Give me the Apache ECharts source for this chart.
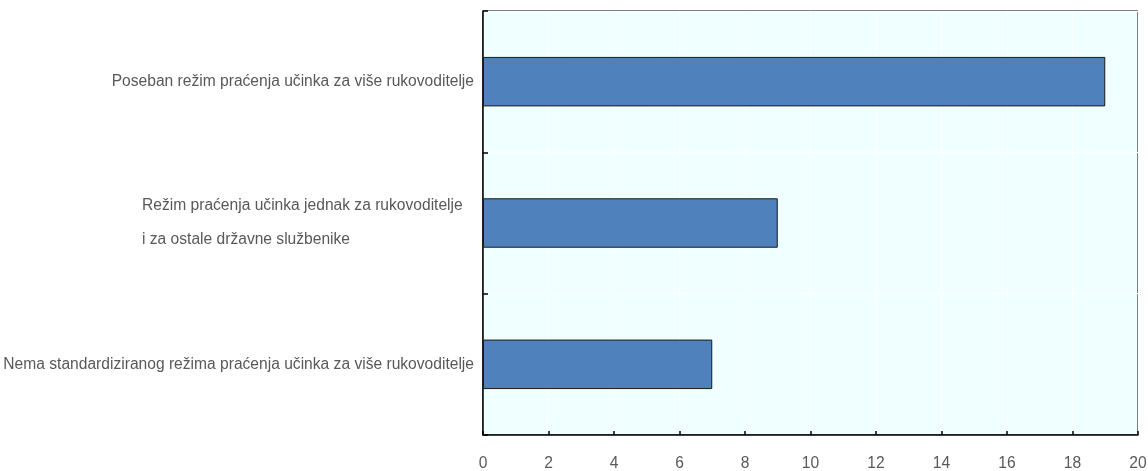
<!DOCTYPE html>
<html>
<head>
<meta charset="utf-8">
<script src="https://cdn.jsdelivr.net/npm/echarts@6/dist/echarts.min.js"></script>
<style>
  html, body { margin: 0; padding: 0; background: #fff; }
  #chart { width: 1148px; height: 471px; }
</style>
</head>
<body>
<div id="chart"></div>
<script>
var categories = [
  'Poseban režim praćenja učinka za više rukovoditelje',
  'Režim praćenja učinka jednak za rukovoditelje\ni za ostale državne službenike',
  'Nema standardiziranog režima praćenja učinka za više rukovoditelje'
];
var values = [19, 9, 7];
var xTicks = { min: 0, max: 20, interval: 2 };

var FONT = '"Liberation Sans", Arial, sans-serif';
var FS = 15.6;
var myChart = echarts.init(document.getElementById('chart'));
var option = {
  animation: false,
  grid: {
    left: 483, right: 10, top: 11, bottom: 36,
    outerBoundsMode: 'none',
    containLabel: false,
    show: true,
    backgroundColor: '#f0ffff',
    borderColor: '#000',
    borderWidth: 1
  },
  xAxis: {
    type: 'value',
    min: xTicks.min,
    max: xTicks.max,
    interval: xTicks.interval,
    axisLine: { show: true, lineStyle: { color: '#000', width: 1.5 } },
    axisTick: { show: true, inside: true, length: 4, lineStyle: { color: '#000', width: 1.5 } },
    axisLabel: { color: '#595959', fontSize: FS, fontFamily: FONT, margin: 21 },
    splitLine: { show: true, lineStyle: { color: '#ffffff', width: 1 } }
  },
  yAxis: {
    type: 'category',
    inverse: true,
    data: categories,
    axisLine: { show: true, lineStyle: { color: '#000', width: 1.5 } },
    axisTick: { show: true, inside: true, length: 5, lineStyle: { color: '#000', width: 1.5 } },
    splitLine: { show: true, lineStyle: { color: '#ffffff', width: 1 } },
    axisLabel: {
      color: '#595959', fontSize: FS, fontFamily: FONT, margin: 9,
      formatter: function (v) {
        if (v.indexOf('\n') >= 0) {
          return v.split('\n').map(function (s) { return '{l|' + s + '}'; }).join('\n');
        }
        return v;
      },
      rich: {
        l: { width: 332, align: 'left', lineHeight: 34, color: '#595959', fontSize: FS, fontFamily: FONT }
      }
    }
  },
  series: [{
    type: 'bar',
    data: values,
    barWidth: '35%',
    itemStyle: { color: '#4f81bd', borderColor: '#1a1a1a', borderWidth: 1 }
  }]
};
myChart.setOption(option);
</script>
</body>
</html>
